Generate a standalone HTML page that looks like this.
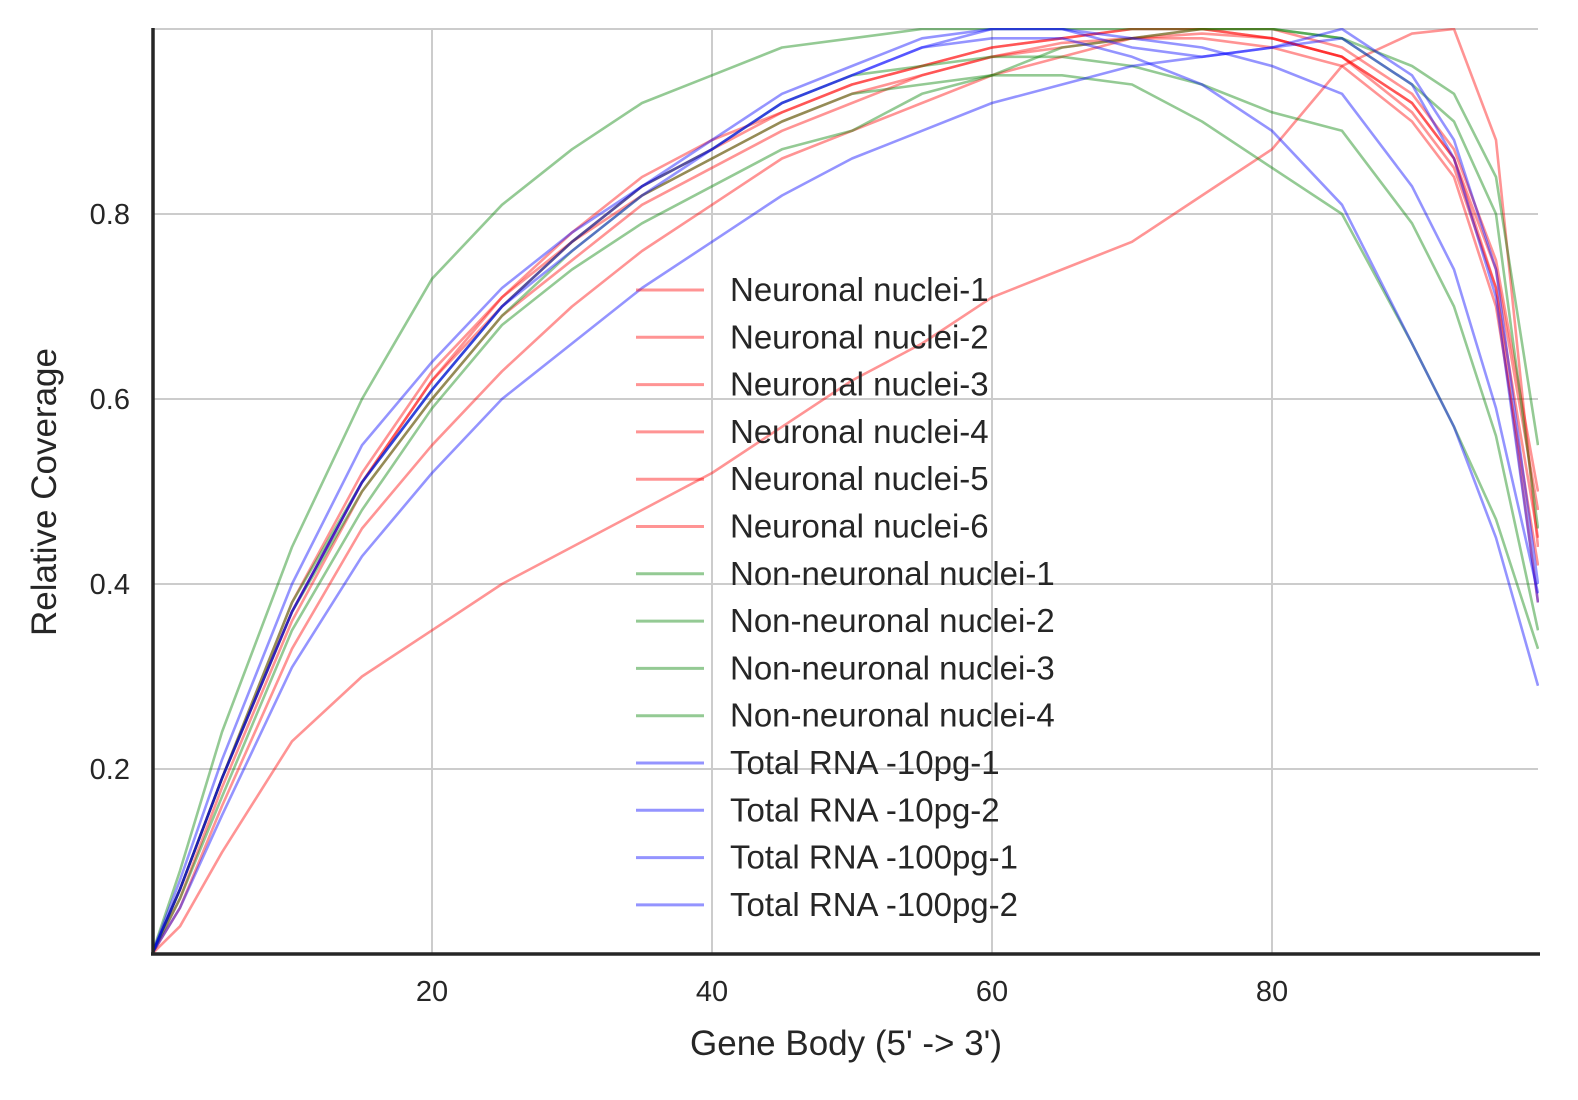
<!DOCTYPE html>
<html><head><meta charset="utf-8"><style>
body{margin:0;background:#fff;}
svg{display:block;font-family:"Liberation Sans",sans-serif;}
</style></head><body>
<svg id="chart" width="1578" height="1100" viewBox="0 0 1578 1100" xmlns="http://www.w3.org/2000/svg">
<defs><clipPath id="plotclip"><rect x="152" y="28" width="1387" height="927"/></clipPath></defs>
<g id="grid"></g>
<g id="series" clip-path="url(#plotclip)"></g>
<g id="axes"></g>
<g id="legend"></g>
<text x="846" y="1055" font-size="35" fill="#262626" text-anchor="middle">Gene Body (5' -&gt; 3')</text>
<text transform="translate(56,492) rotate(-90)" font-size="35" fill="#262626" text-anchor="middle">Relative Coverage</text>
</svg>
<script>
const xPoints = [0,2,5,10,15,20,25,30,35,40,45,50,55,60,65,70,75,80,85,90,93,96,99];
const seriesNames = ["Neuronal nuclei-1","Neuronal nuclei-2","Neuronal nuclei-3","Neuronal nuclei-4","Neuronal nuclei-5","Neuronal nuclei-6","Non-neuronal nuclei-1","Non-neuronal nuclei-2","Non-neuronal nuclei-3","Non-neuronal nuclei-4","Total RNA -10pg-1","Total RNA -10pg-2","Total RNA -100pg-1","Total RNA -100pg-2"];
const seriesGroup = ["red","red","red","red","red","red","green","green","green","green","blue","blue","blue","blue"];
const n1 = [0,0.07,0.19,0.37,0.51,0.62,0.70,0.77,0.82,0.86,0.90,0.93,0.95,0.97,0.985,0.99,0.995,0.99,0.97,0.92,0.86,0.74,0.48];
const n2 = [0,0.07,0.19,0.38,0.52,0.63,0.71,0.78,0.84,0.88,0.91,0.94,0.96,0.98,0.99,1.0,1.0,0.99,0.97,0.91,0.85,0.72,0.45];
const n3 = [0,0.06,0.18,0.36,0.50,0.60,0.69,0.75,0.81,0.85,0.89,0.92,0.95,0.97,0.98,0.99,0.99,0.98,0.96,0.90,0.84,0.70,0.42];
const n4 = [0,0.05,0.16,0.33,0.46,0.55,0.63,0.70,0.76,0.81,0.86,0.89,0.92,0.95,0.97,0.99,1.0,0.99,0.97,0.92,0.86,0.72,0.38];
const n5 = [0,0.07,0.19,0.37,0.51,0.62,0.71,0.77,0.83,0.87,0.91,0.94,0.96,0.98,0.99,1.0,1.0,1.0,0.98,0.93,0.87,0.75,0.50];
const n6 = [0,0.03,0.11,0.23,0.30,0.35,0.40,0.44,0.48,0.52,0.57,0.62,0.66,0.71,0.74,0.77,0.82,0.87,0.96,0.995,1.0,0.88,0.44];
const g1 = [0,0.09,0.24,0.44,0.60,0.73,0.81,0.87,0.92,0.95,0.98,0.99,1.0,1.0,1.0,1.0,1.0,1.0,0.99,0.96,0.93,0.84,0.55];
const g2 = [0,0.07,0.19,0.37,0.50,0.60,0.69,0.76,0.82,0.86,0.90,0.93,0.94,0.95,0.95,0.94,0.90,0.85,0.80,0.66,0.57,0.47,0.33];
const g3 = [0,0.07,0.19,0.38,0.51,0.61,0.70,0.77,0.83,0.87,0.92,0.95,0.96,0.97,0.97,0.96,0.94,0.91,0.89,0.79,0.70,0.56,0.35];
const g4 = [0,0.06,0.17,0.35,0.48,0.59,0.68,0.74,0.79,0.83,0.87,0.89,0.93,0.95,0.98,0.99,1.0,1.0,0.99,0.94,0.90,0.80,0.46];
const b1 = [0,0.08,0.21,0.40,0.55,0.64,0.72,0.78,0.83,0.88,0.93,0.96,0.99,1.0,1.0,0.99,0.98,0.96,0.93,0.83,0.74,0.59,0.39];
const b2 = [0,0.05,0.15,0.31,0.43,0.52,0.60,0.66,0.72,0.77,0.82,0.86,0.89,0.92,0.94,0.96,0.97,0.98,0.99,0.94,0.86,0.71,0.38];
const b3 = [0,0.07,0.19,0.37,0.51,0.61,0.70,0.76,0.82,0.87,0.92,0.95,0.98,0.99,0.99,0.97,0.94,0.89,0.81,0.66,0.57,0.45,0.29];
const b4 = [0,0.07,0.19,0.37,0.51,0.61,0.70,0.77,0.83,0.87,0.92,0.95,0.98,1.0,1.0,0.98,0.97,0.98,1.0,0.95,0.88,0.74,0.40];
const seriesValues = [n1,n2,n3,n4,n5,n6,g1,g2,g3,g4,b1,b2,b3,b4];
const xTicks = [20,40,60,80];
const yTicks = [0.2,0.4,0.6,0.8];
const yTickLabels = ["0.2","0.4","0.6","0.8"];

const NS = "http://www.w3.org/2000/svg";
const X0 = 152, XPX = 14, Y0 = 954, YPX = 925;
function sx(v){ return X0 + v*XPX; }
function sy(v){ return Y0 - v*YPX; }
const colors = {red:"rgba(255,0,0,0.42)", green:"rgba(0,128,0,0.42)", blue:"rgba(0,0,255,0.42)"};
function mk(tag, attrs, parent){ const e=document.createElementNS(NS,tag); for(const k in attrs) e.setAttribute(k,attrs[k]); parent.appendChild(e); return e; }

const grid = document.getElementById("grid");
xTicks.forEach(t=>{
  const l = mk("line",{x1:sx(t),x2:sx(t),y1:28,y2:954,stroke:"#cccccc","stroke-width":2},grid);
  
  
});
yTicks.concat([1.0]).forEach(t=>{
  const l = mk("line",{x1:152,x2:1538,y1:sy(t),y2:sy(t),stroke:"#cccccc","stroke-width":2},grid);
  
  
});

const sg = document.getElementById("series");
seriesValues.forEach((vals,i)=>{
  const pts = vals.map((v,j)=>sx(xPoints[j]).toFixed(1)+","+sy(v).toFixed(1)).join(" ");
  const p = mk("polyline",{points:pts,fill:"none",stroke:colors[seriesGroup[i]],"stroke-width":2.6,"stroke-linejoin":"round"},sg);
  
  
});

const ax = document.getElementById("axes");
const ya = mk("line",{x1:153,x2:153,y1:28,y2:955,stroke:"#262626","stroke-width":3.5},ax);


const xa = mk("line",{x1:151,x2:1540,y1:954,y2:954,stroke:"#262626","stroke-width":3.5},ax);


xTicks.forEach(t=>{
  const tx = mk("text",{x:sx(t),y:1001,"font-size":29,fill:"#262626","text-anchor":"middle"},ax);
  tx.textContent = String(t);
  
  
});
yTicks.forEach((t,i)=>{
  const tx = mk("text",{x:130,y:sy(t)+10,"font-size":29,fill:"#262626","text-anchor":"end"},ax);
  tx.textContent = yTickLabels[i];
  
  
});

const lg = document.getElementById("legend");
seriesNames.forEach((n,i)=>{
  const y = 290 + i*47.3;
  const l = mk("line",{x1:636,x2:704,y1:y,y2:y,stroke:colors[seriesGroup[i]],"stroke-width":3},lg);
  
  
  const t = mk("text",{x:730,y:y+11,"font-size":33,fill:"#262626"},lg);
  t.textContent = n;
  
  
});
</script>
</body></html>
